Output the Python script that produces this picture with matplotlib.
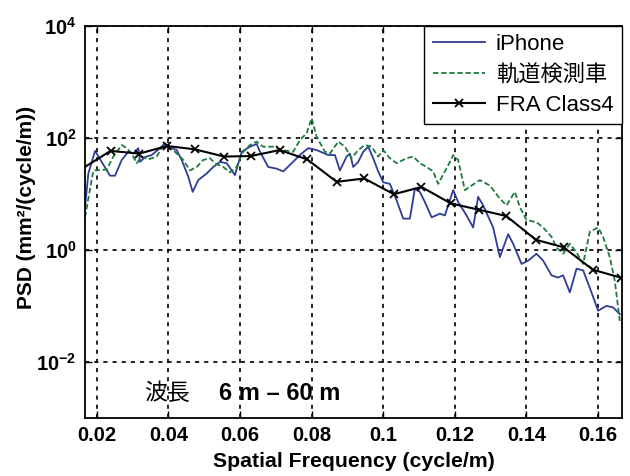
import matplotlib
matplotlib.use('Agg')
import matplotlib.pyplot as plt

plt.rcParams['font.family'] = ['Liberation Sans', 'Noto Sans CJK JP', 'DejaVu Sans']
plt.rcParams['mathtext.fontset'] = 'custom'
plt.rcParams['mathtext.rm'] = 'Liberation Sans:bold'
plt.rcParams['mathtext.bf'] = 'Liberation Sans:bold'

# iPhone PSD
iphone_f = [0.01673, 0.01766, 0.01953, 0.02371, 0.02511, 0.02698, 0.02882, 0.03021,
            0.03161, 0.03208, 0.03348, 0.03535, 0.03767, 0.03906, 0.04093, 0.04233,
            0.04372, 0.04557, 0.04679, 0.04836, 0.05070, 0.05254, 0.05441, 0.05628,
            0.05860, 0.06047, 0.06279, 0.06466, 0.06558, 0.06789, 0.07024, 0.07208,
            0.07442, 0.07674, 0.07906, 0.08140, 0.08464, 0.08651, 0.08790, 0.08977,
            0.09069, 0.09162, 0.09301, 0.09441, 0.09580, 0.09720, 0.09859, 0.09999,
            0.10186, 0.10373, 0.10557, 0.10744, 0.10884, 0.11023, 0.11163, 0.11350,
            0.11582, 0.11721, 0.11953, 0.12092, 0.12327, 0.12511, 0.12650, 0.12790,
            0.13069, 0.13256, 0.13488, 0.13627, 0.13862, 0.14046, 0.14280, 0.14465,
            0.14699, 0.14883, 0.15023, 0.15210, 0.15397, 0.15581, 0.15768, 0.16000,
            0.16234, 0.16418, 0.16605]
iphone_psd = [5.8, 23, 58, 21, 21, 40, 56, 52,
              65, 37, 45, 49, 65, 79, 65, 60,
              40, 20, 10.8, 17.5, 23, 30, 37, 35,
              21.5, 56, 69, 77, 56, 30, 28, 25,
              35, 49, 65, 60, 49, 49, 26, 46,
              52, 30, 37, 56, 69, 43, 25, 16,
              15, 7.6, 3.6, 3.6, 12.4, 10.8, 7.1, 3.8,
              4.4, 4.1, 11.6, 7.1, 4.1, 2.5, 8.8, 6.2,
              2.5, 0.74, 1.9, 1.28, 0.56, 0.64, 0.85, 0.64,
              0.35, 0.32, 0.35, 0.174, 0.46, 0.43, 0.21, 0.082,
              0.10, 0.094, 0.071]

# track inspection car PSD
car_f = [0.01673, 0.01905, 0.02279, 0.02463, 0.02698, 0.02837, 0.02977, 0.03116,
         0.03256, 0.03440, 0.03675, 0.03814, 0.03954, 0.04185, 0.04417, 0.04604,
         0.04791, 0.04975, 0.05162, 0.05302, 0.05533, 0.05720, 0.05907, 0.06047,
         0.06279, 0.06466, 0.06650, 0.06929, 0.07208, 0.07487, 0.07674, 0.07861,
         0.08001, 0.08140, 0.08372, 0.08512, 0.08743, 0.08930, 0.09117, 0.09301,
         0.09488, 0.09675, 0.09859, 0.09999, 0.10186, 0.10373, 0.10652, 0.10836,
         0.11023, 0.11210, 0.11394, 0.11534, 0.11721, 0.11861, 0.11953, 0.12092,
         0.12279, 0.12466, 0.12698, 0.12977, 0.13256, 0.13443, 0.13675, 0.13814,
         0.14001, 0.14280, 0.14465, 0.14699, 0.14839, 0.15023, 0.15210, 0.15397,
         0.15581, 0.15768, 0.16000, 0.16139, 0.16326, 0.16465, 0.16605]
car_psd = [3.8, 26, 27, 46, 74, 65, 52, 35,
           46, 41, 46, 65, 71, 56, 40, 26,
           30, 40, 43, 35, 30, 24, 30, 52,
           74, 85, 69, 69, 60, 56, 91, 120,
           223, 104, 56, 52, 85, 69, 43, 60,
           74, 69, 46, 60, 43, 35, 43, 46,
           35, 30, 25, 15, 25, 37, 49, 40,
           11.6, 14, 17.5, 14, 8.2, 6.2, 10.8, 5.8,
           3.4, 3.1, 2.5, 1.7, 1.1, 0.85, 1.28, 0.9,
           0.56, 2.1, 2.5, 1.7, 0.74, 0.28, 0.054]

# FRA Class 4 reference spectrum
fra_f = [0.01667, 0.02385, 0.03189, 0.03962, 0.04735, 0.05558, 0.06301, 0.07105,
         0.07875, 0.08701, 0.09471, 0.10298, 0.11068, 0.11891, 0.12664, 0.13437,
         0.14261, 0.15034, 0.15857, 0.16630]
fra_psd = [30, 58, 52, 71, 62, 46, 47, 60,
           41, 16.3, 18.7, 9.8, 13.2, 6.7, 5.2, 4.0,
           1.51, 1.11, 0.44, 0.32]

xticks = [0.02, 0.04, 0.06, 0.08, 0.1, 0.12, 0.14, 0.16]
xticklabels = ['0.02', '0.04', '0.06', '0.08', '0.1', '0.12', '0.14', '0.16']
yticks = [1e-2, 1e0, 1e2, 1e4]
yticklabels = [r'$\mathbf{10^{-2}}$', r'$\mathbf{10^{0}}$', r'$\mathbf{10^{2}}$', r'$\mathbf{10^{4}}$']

fig = plt.figure(figsize=(6.3, 4.76), dpi=100)
ax = fig.add_axes([0.1346, 0.1218, 0.8527, 0.8246])

ax.plot(iphone_f, iphone_psd, color='#2e3d9a', lw=1.3, label='iPhone')
ax.plot(car_f, car_psd, color='#1e7b3c', lw=1.3, ls='--', dashes=(3, 1.5), label='軌道検測車')
ax.plot(fra_f, fra_psd, color='black', lw=1.5, marker='x', ms=6, mew=1.3,
        markevery=list(range(1, len(fra_f))), label='FRA Class4')

ax.set_yscale('log')
ax.set_xlim(1 / 60, 1 / 6)
ax.set_ylim(1e-3, 1e4)
ax.set_xticks(xticks)
ax.set_xticklabels(xticklabels, fontsize=14.5, fontweight='bold')
ax.set_yticks(yticks)
ax.set_yticklabels(yticklabels, fontsize=14.5)
ax.minorticks_off()
ax.tick_params(direction='in', length=5, width=1, top=True, right=True, pad=6)
ax.grid(True, color='black', ls=(0, (2.5, 3)), lw=1.2)
for s in ax.spines.values():
    s.set_linewidth(1.3)

ax.set_xlabel('Spatial Frequency (cycle/m)', fontsize=15.3, fontweight='bold', labelpad=5)
ax.set_ylabel('PSD (mm²/(cycle/m))', fontsize=15, fontweight='bold')
ax.yaxis.set_label_coords(-0.09, 0.536)

ax.text(0.0332, 10 ** -2.67, '波長', fontsize=16.5, va='baseline', ha='left',
        family=['Noto Sans CJK JP'])
ax.text(0.0541, 10 ** -2.67, '6 m – 60 m', fontsize=17, fontweight='bold',
        va='baseline', ha='left')

leg = ax.legend(loc='upper right', fontsize=16, borderaxespad=0, fancybox=False,
                framealpha=1, edgecolor='black', handlelength=2.35, handletextpad=0.5,
                labelspacing=0.42, borderpad=0.38)
leg.get_frame().set_linewidth(1.0)

fig.savefig('out.png', dpi=100)
